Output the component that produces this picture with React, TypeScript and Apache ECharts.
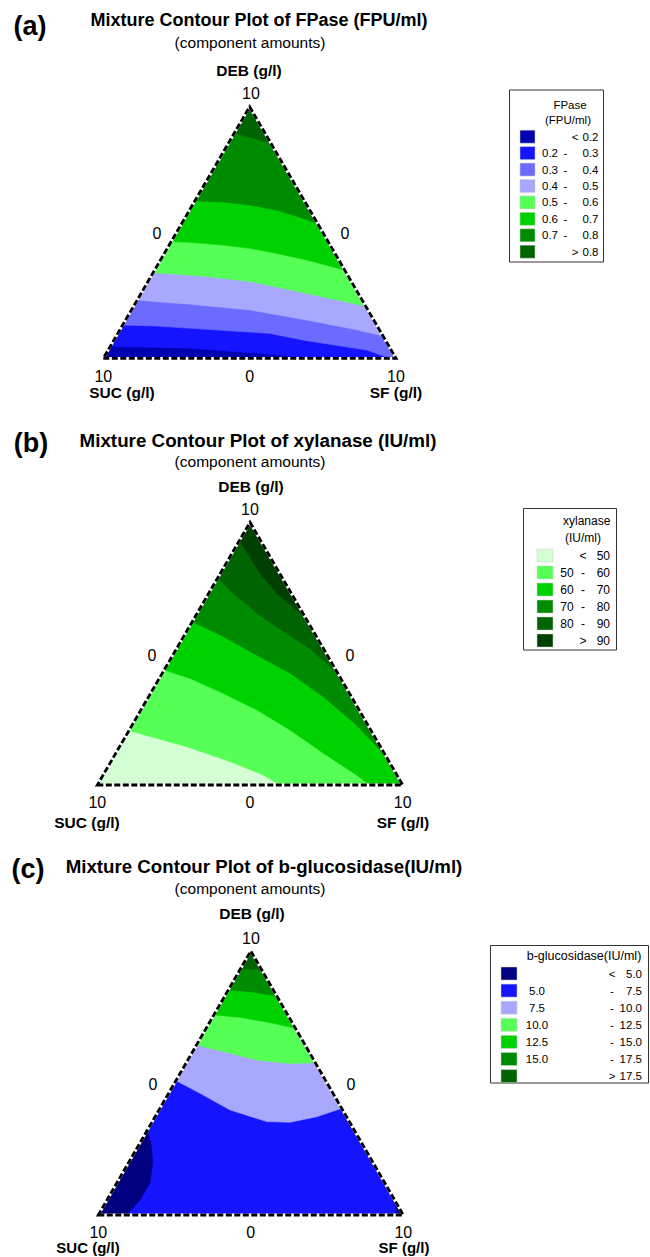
import React, { useEffect, useRef } from 'react';
import * as echarts from 'echarts';

type Pt = [number, number]; // [SF, DEB] in g/l; SUC = 10 - SF - DEB

// ---------- shared axis texts ----------
const componentNames = ['SUC (g/l)', 'SF (g/l)', 'DEB (g/l)'];
const vertexTicks = ['10', '10', '10'];
const edgeTicks = ['0', '0', '0'];
const subtitle = '(component amounts)';

// ---------- panel (a) FPase ----------
const titleA = 'Mixture Contour Plot of FPase (FPU/ml)';
const legendTitleA = ['FPase', '(FPU/ml)'];
const levelsA = ['0.2', '0.3', '0.4', '0.5', '0.6', '0.7', '0.8'];
const colorsA = ['#0000B0', '#1414FF', '#6B6BFF', '#A8A8FF', '#55FF55', '#00D200', '#008C00', '#006400'];
const contoursA: Pt[][] = [
  [[0, 0.46], [1.03, 0.45], [2.76, 0.4], [5.14, 0.2], [7.4, 0]],
  [[0, 1.32], [1.18, 1.28], [2.96, 1.15], [5.2, 0.99], [6.6, 0.7], [8.83, 0.33], [9.8, 0]],
  [[0, 2.32], [0.7, 2.25], [1.89, 2.15], [4.05, 1.92], [6.19, 1.52], [8.09, 1.13], [9.11, 0.89]],
  [[0, 3.4], [0.72, 3.35], [1.91, 3.25], [3.49, 3.05], [5.02, 2.72], [6.55, 2.38], [7.92, 2.08]],
  [[0, 4.64], [0.66, 4.61], [1.85, 4.5], [2.83, 4.37], [3.84, 4.17], [4.99, 3.91], [6.49, 3.51]],
  [[0, 6.26], [1.0, 6.21], [1.96, 6.09], [2.97, 5.89], [4.05, 5.56], [4.64, 5.36]],
  [[0, 8.95], [0.75, 8.75], [1.46, 8.54]],
];

// ---------- panel (b) xylanase ----------
const titleB = 'Mixture Contour Plot of xylanase (IU/ml)';
const legendTitleB = ['xylanase', '(IU/ml)'];
const levelsB = ['50', '60', '70', '80', '90'];
const colorsB = ['#D4FFD4', '#55FF55', '#00D200', '#008C00', '#006400', '#004000'];
const contoursB: Pt[][] = [
  [[0, 2.07], [2.2, 1.46], [3.9, 0.89], [5.25, 0.38], [5.98, 0]],
  [[0, 4.38], [1.0, 4.06], [2.38, 3.49], [3.79, 2.86], [5.27, 2.09], [6.8, 1.21], [8.3, 0.38], [8.93, 0]],
  [[0, 6.22], [1.3, 5.65], [2.74, 4.95], [4.19, 4.25], [5.72, 3.36], [7.35, 2.28], [8.59, 1.33], [9.56, 0.44]],
  [[0, 7.87], [0.8, 7.3], [1.95, 6.54], [3.17, 5.84], [4.37, 5.2], [5.54, 4.38], [6.89, 3.11]],
  [[0, 9.3], [0.45, 8.88], [1.3, 8.06], [2.22, 7.3], [3.59, 6.41]],
];

// ---------- panel (c) b-glucosidase ----------
const titleC = 'Mixture Contour Plot of b-glucosidase(IU/ml)';
const legendTitleC = ['b-glucosidase(IU/ml)'];
const levelsC = ['5.0', '7.5', '10.0', '12.5', '15.0', '17.5'];
const colorsC = ['#000080', '#1414FF', '#A8A8FF', '#55FF55', '#00D200', '#008C00', '#006400'];
const lowCornersC: Pt[][] = [
  [[0.93, 0], [1.08, 0.57], [1.09, 1.2], [0.8, 1.96], [0.45, 2.59], [0, 3.22]],
  [[9.18, 0.82], [9.6, 0.32], [9.8, 0]],
];
const contoursC: Pt[][] = [
  [[0, 5.09], [1.03, 4.61], [2.33, 3.98], [3.75, 3.54], [4.53, 3.51], [5.3, 3.72], [5.96, 4.04]],
  [[0, 6.44], [1.0, 6.19], [2.26, 5.87], [3.41, 5.74], [4.23, 5.77]],
  [[0, 7.58], [0.9, 7.49], [2.11, 7.26], [2.93, 7.07]],
  [[0, 8.52], [0.74, 8.46], [1.7, 8.3]],
  [[0, 9.34], [0.35, 9.32], [0.72, 9.28]],
];

// ---------- geometry helpers ----------
const TRI: Pt[] = [[0, 0], [10, 0], [0, 10]];
const VERTS: Record<number, Pt> = { 1: [10, 0], 2: [0, 10], 3: [0, 0], 4: [10, 0], 5: [0, 10] };
function edgeT(p: Pt) {
  const [sf, deb] = p;
  const suc = 10 - sf - deb;
  if (Math.abs(deb) < 0.05) return sf / 10;
  if (Math.abs(suc) < 0.05) return 1 + deb / 10;
  return 2 + suc / 10;
}
function closeRegion(line: Pt[]): Pt[] {
  const tS = edgeT(line[0]);
  const tE = edgeT(line[line.length - 1]);
  let s = tS;
  if (s <= tE) s += 3;
  const extra: Pt[] = [];
  [1, 2, 3, 4, 5].forEach((v) => {
    if (v > tE && v < s) extra.push(VERTS[v]);
  });
  return [...line, ...extra];
}

type Region = { pts: Pt[]; color?: string; kind: string };
function buildRegions(base: string, fills: { line: Pt[]; color: string }[]): Region[] {
  return [
    { pts: TRI, color: base, kind: 'fill' },
    ...fills.map((f) => ({ pts: closeRegion(f.line), color: f.color, kind: 'fill' })),
    { pts: TRI, kind: 'outlineBase' },
    { pts: TRI, kind: 'outline' },
  ];
}

const regionsA = buildRegions(colorsA[0], contoursA.map((line, i) => ({ line, color: colorsA[i + 1] })));
const regionsB = buildRegions(colorsB[0], contoursB.map((line, i) => ({ line, color: colorsB[i + 1] })));
const regionsC = buildRegions(colorsC[1], [
  ...lowCornersC.map((line) => ({ line, color: colorsC[0] })),
  ...contoursC.map((line, i) => ({ line, color: colorsC[i + 2] })),
]);

const FONT = '"Liberation Sans", Arial, Helvetica, sans-serif';

function makeRender(regions: Region[]) {
  return (params: any, api: any) => {
    const r = regions[params.dataIndex];
    const points = r.pts.map(([sf, deb]) => api.coord([sf + deb / 2, deb]));
    if (r.kind === 'outlineBase')
      return { type: 'polygon', shape: { points }, style: { fill: 'none', stroke: '#ffffff', lineWidth: 2.8 } };
    if (r.kind === 'outline')
      return { type: 'polygon', shape: { points }, style: { fill: 'none', stroke: '#000000', lineWidth: 2.8, lineDash: [6, 2.5] } };
    return { type: 'polygon', shape: { points }, style: { fill: r.color, stroke: r.color, lineWidth: 0.6 } };
  };
}

function T(x: number, y: number, text: string, size: number, bold = false, align = 'center') {
  return {
    type: 'text',
    x,
    y,
    silent: true,
    style: { text, fontSize: size, fontFamily: FONT, fill: '#000', align, verticalAlign: 'middle', fontWeight: bold ? 'bold' : 'normal' },
  };
}

type PanelLayout = {
  grid: { left: number; top: number; width: number; height: number };
  letter: [number, number];
  title: [number, number, number];
  sub: [number, number];
  deb: [number, number];
  topTick: [number, number];
  mids: [number, number, number];
  bottomY: number;
  sucLabel: [number, number];
  sfLabel: [number, number];
  labelSize: number;
};

function panelTexts(L: PanelLayout, letter: string, title: string) {
  const g = L.grid;
  const out: any[] = [];
  out.push(T(L.letter[0], L.letter[1], letter, 27, true));
  out.push(T(L.title[0], L.title[1], title, L.title[2], true));
  out.push(T(L.sub[0], L.sub[1], subtitle, 15.5));
  out.push(T(L.deb[0], L.deb[1], componentNames[2], 15.5, true));
  out.push(T(L.topTick[0], L.topTick[1], vertexTicks[2], 16));
  out.push(T(L.mids[0], L.mids[2], edgeTicks[1], 16));
  out.push(T(L.mids[1], L.mids[2], edgeTicks[2], 16));
  out.push(T(g.left, L.bottomY, vertexTicks[0], 16));
  out.push(T(g.left + g.width / 2, L.bottomY, edgeTicks[0], 16));
  out.push(T(g.left + g.width, L.bottomY, vertexTicks[1], 16));
  out.push(T(L.sucLabel[0], L.sucLabel[1], componentNames[0], L.labelSize, true));
  out.push(T(L.sfLabel[0], L.sfLabel[1], componentNames[1], L.labelSize, true));
  return out;
}

type LegendLayout = {
  box: [number, number, number, number];
  titles: [number, number][];
  titleSize: number;
  rowY0: number;
  dy: number;
  swX: number;
  swW: number;
  swH: number;
  leftX: number;
  dashX: number;
  ltX: number;
  rightX: number;
  size: number;
};

function legendGraphics(L: LegendLayout, titles: string[], levels: string[], colors: string[]) {
  const out: any[] = [];
  out.push({
    type: 'rect',
    silent: true,
    shape: { x: L.box[0], y: L.box[1], width: L.box[2], height: L.box[3] },
    style: { fill: '#fff', stroke: '#333', lineWidth: 1 },
  });
  titles.forEach((t, i) => out.push(T(L.titles[i][0], L.titles[i][1], t, L.titleSize)));
  colors.forEach((c, i) => {
    const y = L.rowY0 + i * L.dy;
    out.push({
      type: 'rect',
      silent: true,
      shape: { x: L.swX, y: y - L.swH / 2, width: L.swW, height: L.swH },
      style: { fill: c, stroke: '#cfcfcf', lineWidth: 0.5 },
    });
    if (i === 0) {
      out.push(T(L.ltX, y, '<', L.size));
      out.push(T(L.rightX, y, levels[0], L.size, false, 'right'));
    } else if (i === colors.length - 1) {
      out.push(T(L.ltX, y, '>', L.size));
      out.push(T(L.rightX, y, levels[levels.length - 1], L.size, false, 'right'));
    } else {
      out.push(T(L.leftX, y, levels[i - 1], L.size));
      out.push(T(L.dashX, y, '-', L.size));
      out.push(T(L.rightX, y, levels[i], L.size, false, 'right'));
    }
  });
  return out;
}

const layoutA: PanelLayout = {
  grid: { left: 103.3, top: 106.7, width: 292.7, height: 251.6 },
  letter: [30, 26],
  title: [259, 20, 18],
  sub: [250, 42],
  deb: [249, 70],
  topTick: [251, 93],
  mids: [157, 345, 233],
  bottomY: 376,
  sucLabel: [122, 392],
  sfLabel: [396, 392],
  labelSize: 15.5,
};
const layoutB: PanelLayout = {
  grid: { left: 97.3, top: 522.3, width: 305.4, height: 262.7 },
  letter: [31, 443],
  title: [258, 440, 18.8],
  sub: [250, 461.5],
  deb: [251, 486],
  topTick: [250, 509.5],
  mids: [152, 350, 655],
  bottomY: 802.5,
  sucLabel: [87, 822],
  sfLabel: [403, 822],
  labelSize: 15.5,
};
const layoutC: PanelLayout = {
  grid: { left: 98.3, top: 951, width: 305, height: 264 },
  letter: [28, 869],
  title: [264, 866, 18.7],
  sub: [250, 888],
  deb: [252, 913],
  topTick: [251, 938],
  mids: [153, 351, 1084],
  bottomY: 1232.5,
  sucLabel: [88, 1247.5],
  sfLabel: [404, 1247.5],
  labelSize: 15,
};

const legendA: LegendLayout = {
  box: [509.5, 90, 94, 172], titles: [[570, 105], [568, 119.5]], titleSize: 11.5, rowY0: 136.7, dy: 16.43,
  swX: 520, swW: 15, swH: 13, leftX: 550, dashX: 565.5, ltX: 575, rightX: 598.5, size: 11.5,
};
const legendB: LegendLayout = {
  box: [523.5, 508.5, 93, 141.5], titles: [[586.7, 520.5], [583, 538]], titleSize: 12, rowY0: 555.5, dy: 17,
  swX: 537, swW: 16, swH: 13, leftX: 567, dashX: 583, ltX: 583, rightX: 610, size: 12,
};
const legendC: LegendLayout = {
  box: [490.5, 945.5, 158, 137.5], titles: [[584, 956]], titleSize: 12.5, rowY0: 973.5, dy: 17.1,
  swX: 501, swW: 16, swH: 13, leftX: 537, dashX: 612, ltX: 612, rightX: 642, size: 11.5,
};

export default function App() {
  const ref = useRef<HTMLDivElement>(null);
  useEffect(() => {
    if (!ref.current) return;
    const chart = echarts.init(ref.current, undefined, { renderer: 'svg' });
    const layouts = [layoutA, layoutB, layoutC];
    const regionSets = [regionsA, regionsB, regionsC];
    const option: any = {
      animation: false,
      backgroundColor: '#ffffff',
      grid: layouts.map((l) => ({ ...l.grid })),
      xAxis: layouts.map((_, i) => ({ type: 'value', gridIndex: i, min: 0, max: 10, show: false })),
      yAxis: layouts.map((_, i) => ({ type: 'value', gridIndex: i, min: 0, max: 10, show: false })),
      series: regionSets.map((regions, i) => ({
        type: 'custom',
        coordinateSystem: 'cartesian2d',
        xAxisIndex: i,
        yAxisIndex: i,
        clip: false,
        silent: true,
        renderItem: makeRender(regions),
        data: regions.map(() => [5, 5]),
      })),
      graphic: [
        ...panelTexts(layoutA, '(a)', titleA),
        ...panelTexts(layoutB, '(b)', titleB),
        ...panelTexts(layoutC, '(c)', titleC),
        ...legendGraphics(legendA, legendTitleA, levelsA, colorsA),
        ...legendGraphics(legendB, legendTitleB, levelsB, colorsB),
        ...legendGraphics(legendC, legendTitleC, levelsC, colorsC),
      ],
    };
    chart.setOption(option);
    return () => chart.dispose();
  }, []);
  return <div ref={ref} style={{ position: 'absolute', left: 0, top: 0, width: 650, height: 1257 }} />;
}
